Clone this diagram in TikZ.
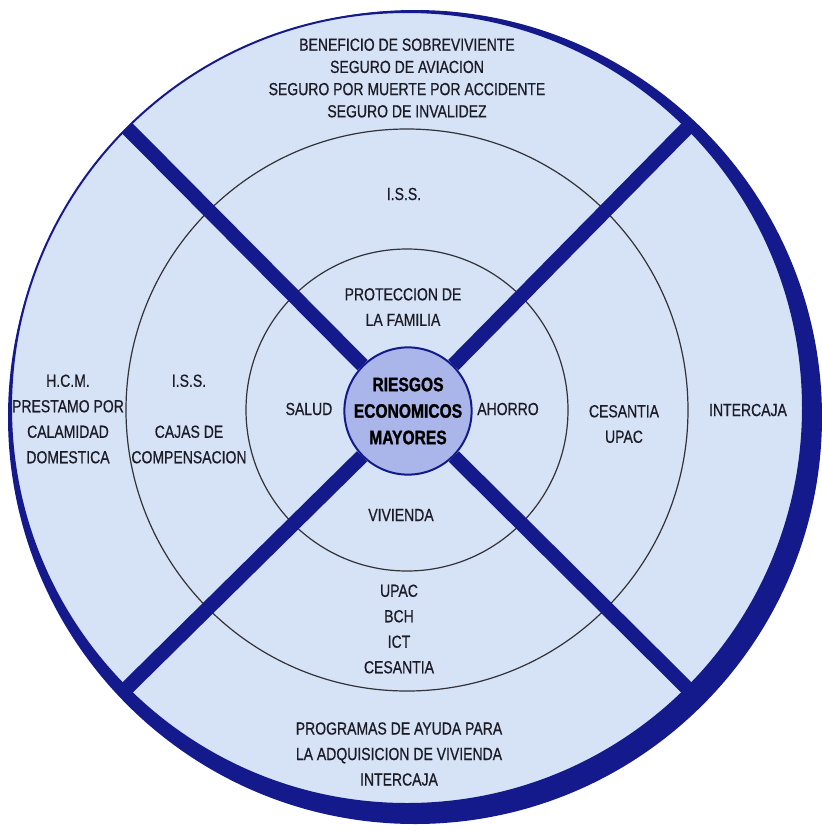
\documentclass[tikz,border=0pt]{standalone}
\usepackage{fontspec}
\setmainfont{Liberation Sans}[FakeStretch=0.8]
\usetikzlibrary{calc}
\definecolor{navy}{RGB}{20,26,140}
\definecolor{paleblue}{RGB}{214,226,246}
\definecolor{corefill}{RGB}{170,182,234}
\definecolor{ringline}{RGB}{50,50,55}
\definecolor{txt}{RGB}{28,28,38}
\tikzstyle{ring}=[draw=ringline,line width=1.2pt]
\tikzstyle{spoke}=[draw=navy,line width=14.5pt]
\tikzstyle{lbl}=[align=center,inner sep=0pt,text=txt,font=\fontsize{17.5}{25.5}\selectfont\addfontfeature{FakeBold=0.6}]
\tikzstyle{core}=[circle,draw=navy,line width=2pt,fill=corefill,minimum size=124pt,inner sep=0pt,align=center,font=\fontsize{19.5}{26.5}\selectfont\bfseries\addfontfeature{FakeBold=1.2}]
\begin{document}
\begin{tikzpicture}[x=1pt,y=-1pt]
\useasboundingbox (0,0) rectangle (822,831);
\coordinate (o) at (407,408);
\coordinate (m) at (407,410);
% discs and rings
\fill[navy] (415,417) circle [radius=407pt];
\filldraw[fill=paleblue,draw=navy,line width=2pt] (o) circle [radius=396pt];
\draw[ring] (m) circle [radius=281pt];
\draw[ring] (m) circle [radius=161pt];
\node[core] (risk) at (408,411) {RIESGOS\\ECONOMICOS\\MAYORES};
% spokes
\coordinate (nw) at ($(o)+(135:396pt)$);
\coordinate (ne) at ($(o)+(45:396pt)$);
\coordinate (se) at ($(o)+(-45:396pt)$);
\coordinate (sw) at ($(o)+(-135:396pt)$);
\draw[spoke] (risk) -- (nw);
\draw[spoke] (risk) -- (ne);
\draw[spoke] (risk) -- (se);
\draw[spoke] (risk) -- (sw);
% labels
\node[lbl,font=\fontsize{17.5}{22.2}\selectfont\addfontfeature{FakeBold=0.6}] (seguros) at (407,78) {BENEFICIO DE SOBREVIVIENTE\\SEGURO DE AVIACION\\SEGURO POR MUERTE POR ACCIDENTE\\SEGURO DE INVALIDEZ};
\node[lbl] (issup) at (404,194) {I.S.S.};
\node[lbl] (familia) at (403,307) {PROTECCION DE\\LA FAMILIA};
\node[lbl] (hcm) at (68,419) {H.C.M.\\PRESTAMO POR\\CALAMIDAD\\DOMESTICA};
\node[lbl] (cajas) at (189,419) {I.S.S.\\~\\CAJAS DE\\COMPENSACION};
\node[lbl] (salud) at (309,409) {SALUD};
\node[lbl] (ahorro) at (508,409) {AHORRO};
\node[lbl] (cesantia) at (624,424) {CESANTIA\\UPAC};
\node[lbl] (intercaja) at (748,410) {INTERCAJA};
\node[lbl] (vivienda) at (401,515) {VIVIENDA};
\node[lbl] (upac) at (399,629) {UPAC\\BCH\\ICT\\CESANTIA};
\node[lbl] (programas) at (399,754) {PROGRAMAS DE AYUDA PARA\\LA ADQUISICION DE VIVIENDA\\INTERCAJA};
\end{tikzpicture}
\end{document}
